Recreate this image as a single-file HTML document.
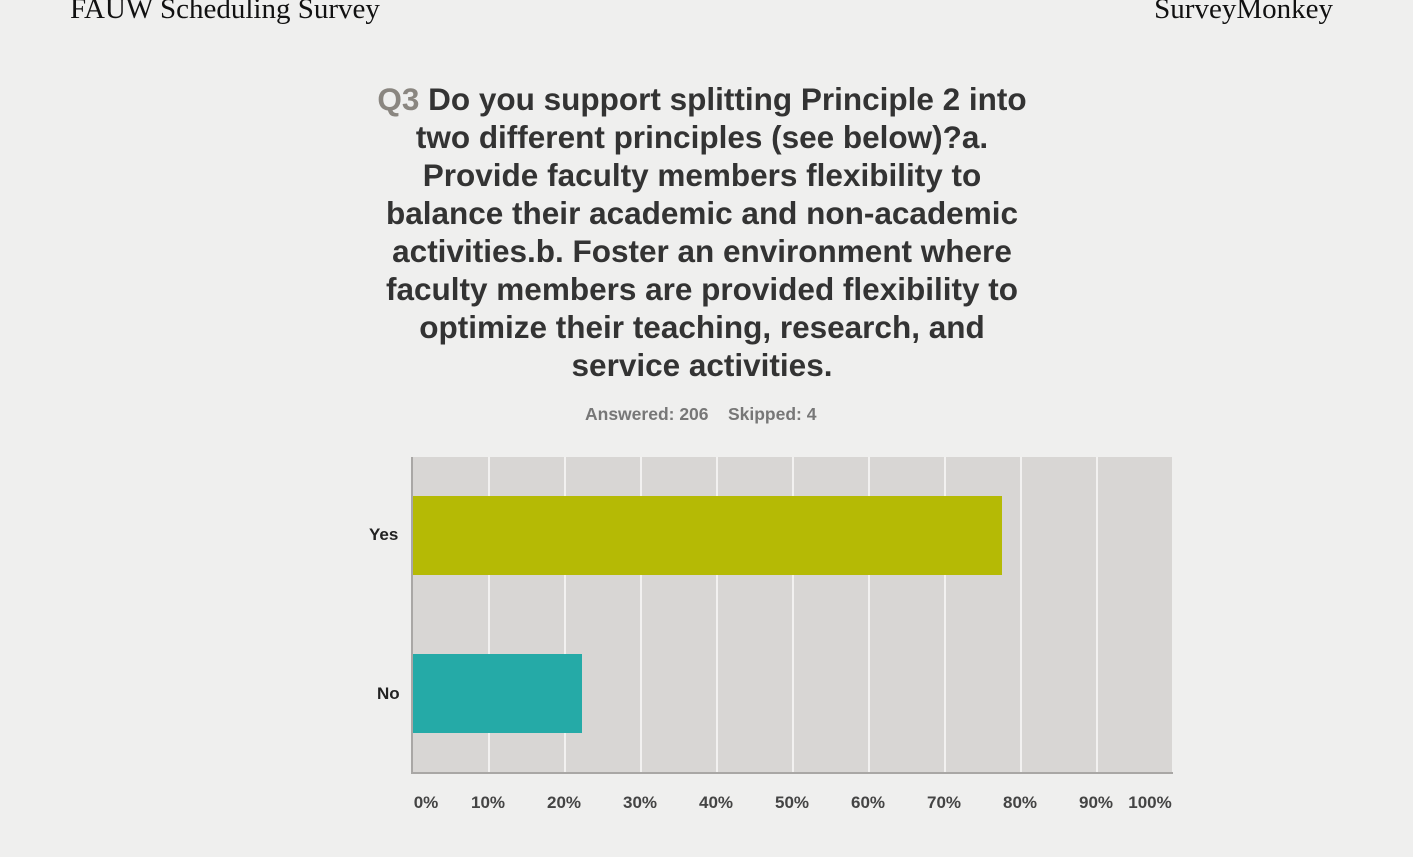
<!DOCTYPE html>
<html><head><style>
body{margin:0;width:1413px;height:857px;background:#efefee;position:relative;overflow:hidden;font-family:"Liberation Sans",Arial,sans-serif}
.a{position:absolute}
.hd{font-family:"Liberation Serif",serif;font-size:29px;color:#111;top:-7px}
.t{left:250px;width:904px;text-align:center;font-weight:bold;font-size:31.5px;color:#333;line-height:38px;top:80px}
.x{font-size:17px;font-weight:bold;color:#444;top:793px;width:60px;text-align:center}
.g{width:2px;background:#f2f1f0;top:457px;height:315px}
</style></head><body>
<div class="a hd" style="left:70px">FAUW Scheduling Survey</div>
<div class="a hd" style="right:80px">SurveyMonkey</div>
<div class="a t"><span style="color:#8a8680">Q3</span> Do you support splitting Principle 2 into<br>two different principles (see below)?a.<br>Provide faculty members flexibility to<br>balance their academic and non-academic<br>activities.b. Foster an environment where<br>faculty members are provided flexibility to<br>optimize their teaching, research, and<br>service activities.</div>
<div class="a" style="left:585px;top:404px;font-size:17.5px;font-weight:bold;color:#777">Answered: 206 &nbsp;&nbsp;&nbsp;Skipped: 4</div>
<div class="a" style="left:412px;top:457px;width:760px;height:315px;background:#d8d6d4"></div>
<div class="a g" style="left:488px"></div><div class="a g" style="left:564px"></div><div class="a g" style="left:640px"></div><div class="a g" style="left:716px"></div><div class="a g" style="left:792px"></div><div class="a g" style="left:868px"></div><div class="a g" style="left:944px"></div><div class="a g" style="left:1020px"></div><div class="a g" style="left:1096px"></div>
<div class="a" style="left:412px;top:496px;width:590px;height:79px;background:#b5ba05"></div>
<div class="a" style="left:412px;top:654px;width:170px;height:79px;background:#25aaa7"></div>
<div class="a" style="left:411px;top:457px;width:2px;height:317px;background:#a9a7a5"></div>
<div class="a" style="left:411px;top:772px;width:762px;height:2px;background:#a9a7a5"></div>
<div class="a" style="left:369px;top:525px;font-size:17px;font-weight:bold;color:#222">Yes</div>
<div class="a" style="left:377px;top:684px;font-size:17px;font-weight:bold;color:#222">No</div>
<div class="a x" style="left:396px">0%</div><div class="a x" style="left:458px">10%</div><div class="a x" style="left:534px">20%</div><div class="a x" style="left:610px">30%</div><div class="a x" style="left:686px">40%</div><div class="a x" style="left:762px">50%</div><div class="a x" style="left:838px">60%</div><div class="a x" style="left:914px">70%</div><div class="a x" style="left:990px">80%</div><div class="a x" style="left:1066px">90%</div><div class="a x" style="left:1120px">100%</div>
</body></html>
